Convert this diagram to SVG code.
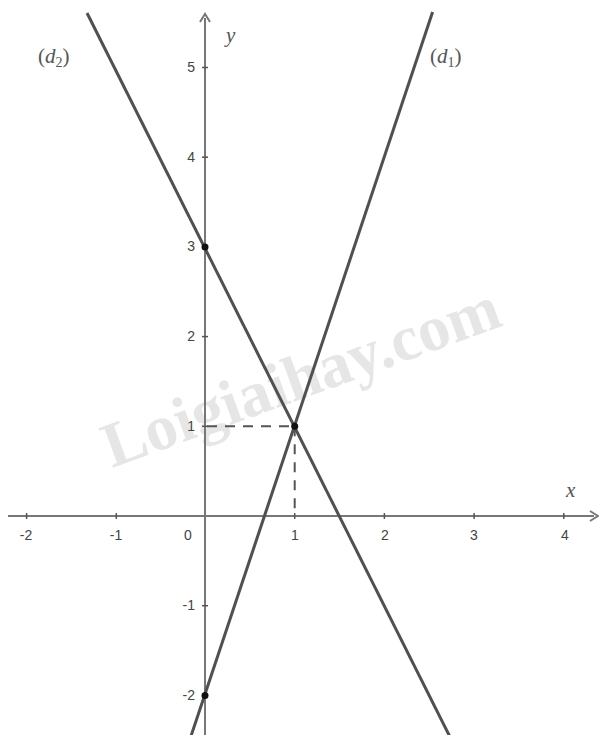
<svg xmlns="http://www.w3.org/2000/svg" width="599" height="735" viewBox="0 0 599 735">
<style>
.axis{stroke:#777;stroke-width:2;fill:none}
.tick{stroke:#555;stroke-width:1.5}
.line{stroke:#505050;stroke-width:3;fill:none}
.dash{stroke:#555;stroke-width:2;stroke-dasharray:10,8;fill:none}
.num{font-family:"Liberation Sans",Arial,sans-serif;font-size:14px;fill:#444}
.lab{font-family:"Liberation Serif","Times New Roman",serif;font-style:italic;font-size:21px;fill:#555}
.wm{font-family:"Liberation Serif","Times New Roman",serif;font-weight:bold;font-size:64px;fill:#e6e6e6}
</style>
<rect width="599" height="735" fill="#fff"/>
<text class="wm" transform="translate(112,468) rotate(-20)">Loigiaihay.com</text>
<g id="axes">
<line class="axis" x1="8" y1="516" x2="594" y2="516"/>
<path d="M590,511 L598,516 L590,521" class="axis"/>
<line class="axis" x1="205" y1="735" x2="205" y2="18"/>
<path d="M200,22 L205,14 L210,22" class="axis"/>
<g class="tick">
<line x1="26.6" y1="513" x2="26.6" y2="519"/>
<line x1="116.3" y1="513" x2="116.3" y2="519"/>
<line x1="294.7" y1="513" x2="294.7" y2="519"/>
<line x1="384.4" y1="513" x2="384.4" y2="519"/>
<line x1="474.1" y1="513" x2="474.1" y2="519"/>
<line x1="563.8" y1="513" x2="563.8" y2="519"/>
<line x1="202" y1="67.5" x2="208" y2="67.5"/>
<line x1="202" y1="157.2" x2="208" y2="157.2"/>
<line x1="202" y1="246.9" x2="208" y2="246.9"/>
<line x1="202" y1="336.6" x2="208" y2="336.6"/>
<line x1="202" y1="426.3" x2="208" y2="426.3"/>
<line x1="202" y1="605.7" x2="208" y2="605.7"/>
<line x1="202" y1="695.4" x2="208" y2="695.4"/>
</g>
<g class="num" text-anchor="middle">
<text x="26" y="540">-2</text>
<text x="116" y="540">-1</text>
<text x="188" y="540">0</text>
<text x="295" y="540">1</text>
<text x="385" y="540">2</text>
<text x="474" y="540">3</text>
<text x="565" y="540">4</text>
</g>
<g class="num" text-anchor="end">
<text x="195" y="72">5</text>
<text x="195" y="162">4</text>
<text x="195" y="251">3</text>
<text x="195" y="341">2</text>
<text x="195" y="431">1</text>
<text x="195" y="610">-1</text>
<text x="195" y="700">-2</text>
</g>
<text class="lab" x="226" y="42">y</text>
<text class="lab" x="566" y="497">x</text>
</g>
<g id="connectors">
<line class="dash" x1="207" y1="426.3" x2="294.7" y2="426.3"/>
<line class="dash" x1="294.7" y1="426.3" x2="294.7" y2="514"/>
<line id="d1" class="line" x1="432.6" y1="12" x2="190.7" y2="737"/>
<line id="d2" class="line" x1="87" y1="13" x2="450" y2="737"/>
</g>
<g id="points" fill="#111">
<circle cx="205" cy="246.9" r="3.5"/>
<circle cx="205" cy="695.4" r="3.5"/>
<circle cx="294.7" cy="426.3" r="3.5"/>
</g>
<g id="labels">
<text class="lab" x="38" y="63" style="font-style:normal">(<tspan font-style="italic">d</tspan><tspan font-size="14" dy="4">2</tspan><tspan dy="-4">)</tspan></text>
<text class="lab" x="430" y="63" style="font-style:normal">(<tspan font-style="italic">d</tspan><tspan font-size="14" dy="4">1</tspan><tspan dy="-4">)</tspan></text>
</g>
</svg>
